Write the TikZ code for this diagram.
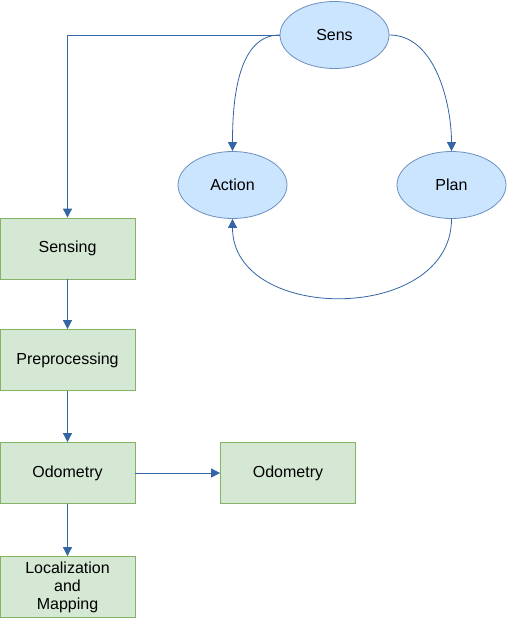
\documentclass[tikz,border=0pt]{standalone}
\usepackage{fontspec}
\setmainfont{Liberation Sans}
\usepackage{xcolor}
\usepackage{tikz}
\usetikzlibrary{shapes.geometric,arrows.meta}
\definecolor{edgeblue}{HTML}{3465A4}
\definecolor{ellfill}{HTML}{CCE5FF}
\definecolor{elldraw}{HTML}{6C8EBF}
\definecolor{boxfill}{HTML}{D5E8D4}
\definecolor{boxdraw}{HTML}{82B366}

\begin{document}
\begin{tikzpicture}[x=1pt, y=-1pt, line width=0.8pt, >={Triangle[length=9pt,width=9pt]},
    every node/.style={font=\fontsize{16}{18}\selectfont},
    loop node/.style={ellipse, draw=elldraw, fill=ellfill, minimum width=109pt, minimum height=67pt, inner sep=0pt},
    step box/.style={rectangle, draw=boxdraw, fill=boxfill, minimum width=135pt, minimum height=61pt, inner sep=0pt, align=center},
    link/.style={draw=edgeblue, ->}]

                \useasboundingbox (0,0) rectangle (507,618);

                \node[loop node] (sens) at (334.5,35) {Sens};
                \node[loop node] (action) at (232.5,185) {Action};
                \node[loop node] (plan) at (451.5,185) {Plan};

                \node[step box] (sensing) at (67.5,248.5) {Sensing};
                \node[step box] (prep) at (67.5,360) {Preprocessing};
                \node[step box] (odom) at (67.5,473) {Odometry};
                \node[step box] (odom2) at (288,473) {Odometry};
                \node[step box] (locmap) at (67.5,587) {Localization\\and\\Mapping};

                \draw[link] (sens.west) to[out=180, in=90, looseness=0.9] (action.north);
                \draw[link] (sens.east) to[out=0, in=90, looseness=0.9] (plan.north);
                \draw[link] (plan.south) to[out=-90, in=-90, distance=105pt] (action.south);

                \draw[link] (sens.west) -| (sensing.north);
                \draw[link] (sensing) -- (prep);
                \draw[link] (prep) -- (odom);
                \draw[link] (odom) -- (locmap);
                \draw[link] (odom) -- (odom2);
            \end{tikzpicture}
\end{document}
